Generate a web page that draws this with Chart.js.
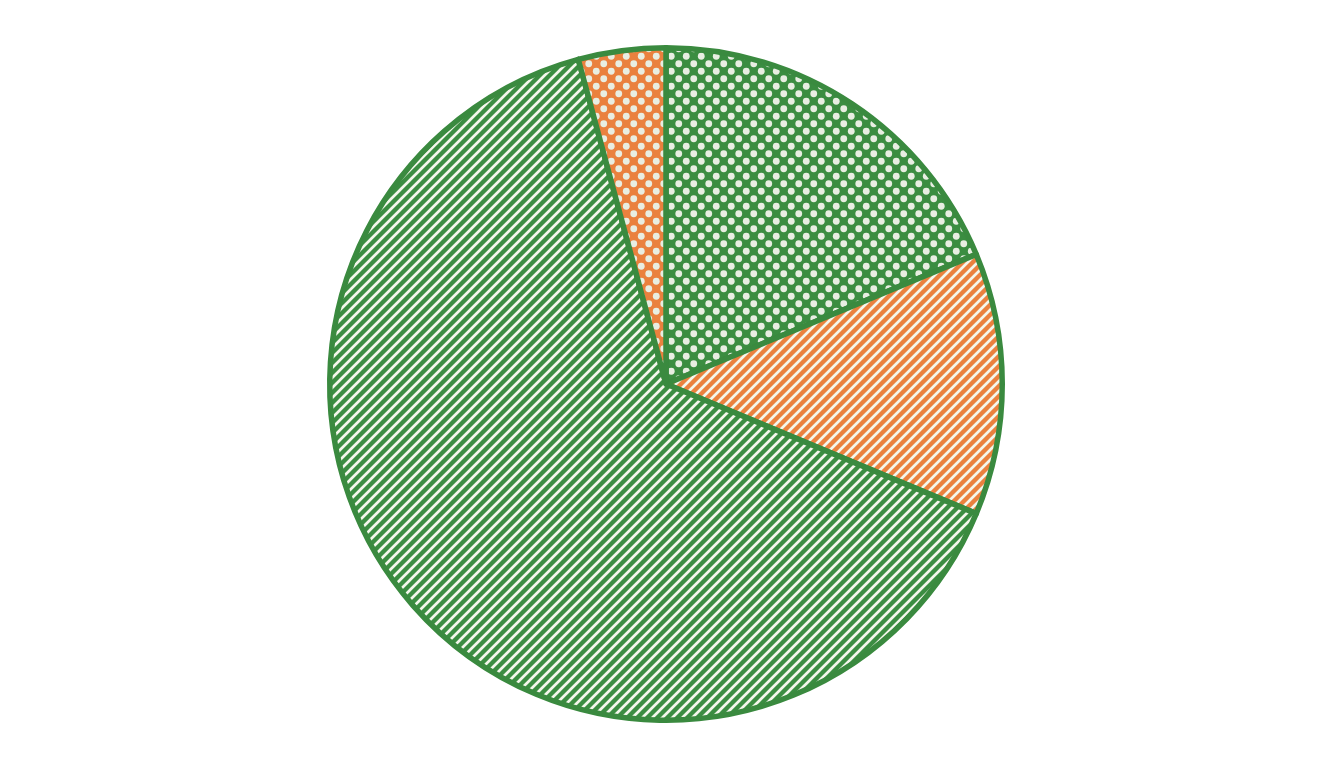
<!DOCTYPE html>
<html>
<head>
<meta charset="utf-8">
<script src="https://cdn.jsdelivr.net/npm/chart.js@4"></script>
<style>
html,body{margin:0;padding:0;background:#ffffff;}
#wrap{width:1344px;height:768px;}
</style>
</head>
<body>
<div id="wrap"><canvas id="c" width="1344" height="768"></canvas></div>
<script>
const categories = ['A', 'B', 'C', 'D'];
const values = [18.7, 12.6, 64.5, 4.2];
const fillKinds = ['dots', 'stripes', 'stripes', 'dots'];
const fillColors = ['#3b8d41', '#ea813e', '#3b8d41', '#ea813e'];

const GREEN_BORDER = '#3a8a3f';

function makePattern(kind, color) {
  const c = document.createElement('canvas');
  const ctx = c.getContext('2d');
  if (kind === 'stripes') {
    const s = 10;
    c.width = s; c.height = s;
    ctx.fillStyle = color;
    ctx.fillRect(0, 0, s, s);
    ctx.strokeStyle = '#f4f7ec';
    ctx.lineWidth = 2.7;
    ctx.lineCap = 'square';
    ctx.beginPath();
    ctx.moveTo(0, s); ctx.lineTo(s, 0);
    ctx.moveTo(-s/2, s/2); ctx.lineTo(s/2, -s/2);
    ctx.moveTo(s/2, s + s/2); ctx.lineTo(s + s/2, s/2);
    ctx.stroke();
  } else {
    const w = 15, h = 15;
    c.width = w; c.height = h;
    ctx.fillStyle = color;
    ctx.fillRect(0, 0, w, h);
    ctx.fillStyle = '#e8eee2';
    const pts = [[w*0.25, h*0.25], [w*0.75, h*0.75]];
    for (const [x, y] of pts) {
      ctx.beginPath();
      ctx.arc(x, y, 3.4, 0, Math.PI * 2);
      ctx.fill();
    }
  }
  const main = document.getElementById('c').getContext('2d');
  return main.createPattern(c, 'repeat');
}

const backgrounds = fillKinds.map((k, i) => makePattern(k, fillColors[i]));

new Chart(document.getElementById('c'), {
  type: 'pie',
  data: {
    labels: categories,
    datasets: [{
      data: values,
      backgroundColor: backgrounds,
      borderColor: GREEN_BORDER,
      borderWidth: 5.5,
      borderJoinStyle: 'round'
    }]
  },
  options: {
    responsive: false,
    animation: false,
    layout: { padding: { top: 45, bottom: 45, left: 0, right: 12 } },
    plugins: {
      legend: { display: false },
      tooltip: { enabled: false },
      title: { display: false }
    }
  }
});
</script>
</body>
</html>
